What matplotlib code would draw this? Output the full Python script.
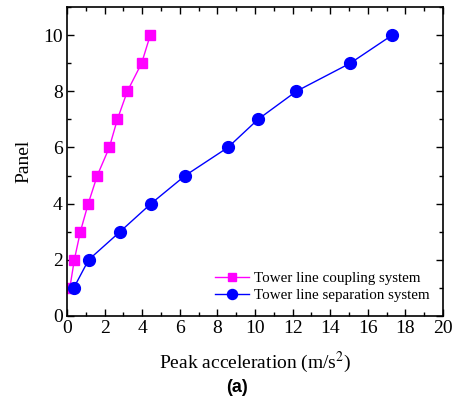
import matplotlib.pyplot as plt
from matplotlib.ticker import MultipleLocator

# Peak acceleration per panel for both tower-line models
panels = [1, 2, 3, 4, 5, 6, 7, 8, 9, 10]
coupling_acc = [0.15, 0.39, 0.71, 1.13, 1.61, 2.25, 2.68, 3.21, 3.97, 4.43]
separation_acc = [0.36, 1.15, 2.82, 4.47, 6.29, 8.56, 10.16, 12.2, 15.07, 17.3]

plt.rcParams["font.family"] = "Liberation Serif"
plt.rcParams["mathtext.fontset"] = "stix"

fig = plt.figure(figsize=(4.57, 4.04), dpi=100)
ax = fig.add_axes([67 / 457, 1 - 316 / 404, 376 / 457, 309 / 404])

ax.plot(coupling_acc, panels, color="magenta", marker="s", markersize=7.5,
        linewidth=1, label="Tower line coupling system")
ax.plot(separation_acc, panels, color="blue", marker="o", markersize=8.5,
        linewidth=1, label="Tower line separation system")

ax.set_xlim(0, 20)
ax.set_ylim(0, 11)
ax.xaxis.set_major_locator(MultipleLocator(2))
ax.xaxis.set_minor_locator(MultipleLocator(1))
ax.yaxis.set_major_locator(MultipleLocator(2))
ax.yaxis.set_minor_locator(MultipleLocator(1))
ax.tick_params(which="both", direction="in", top=True, right=True, labelsize=14)
ax.tick_params(which="major", length=5, width=1, pad=3)
ax.tick_params(which="minor", length=3, width=1)
for s in ax.spines.values():
    s.set_linewidth(1.2)

ax.set_xlabel("Peak acceleration (m/s$^{2}$)", fontsize=14, labelpad=9)
ax.set_ylabel("Panel", fontsize=14, labelpad=8)
ax.legend(loc="lower right", frameon=False, fontsize=10.8, handlelength=2.3,
          handletextpad=0.3, borderaxespad=0.5, labelspacing=0.25,
          markerscale=0.85)

fig.text(237 / 457, 1 - 388 / 404, "(a)", fontsize=13, fontweight="bold",
         family="Liberation Sans", ha="center", va="center")

fig.savefig("out.png", dpi=100)
